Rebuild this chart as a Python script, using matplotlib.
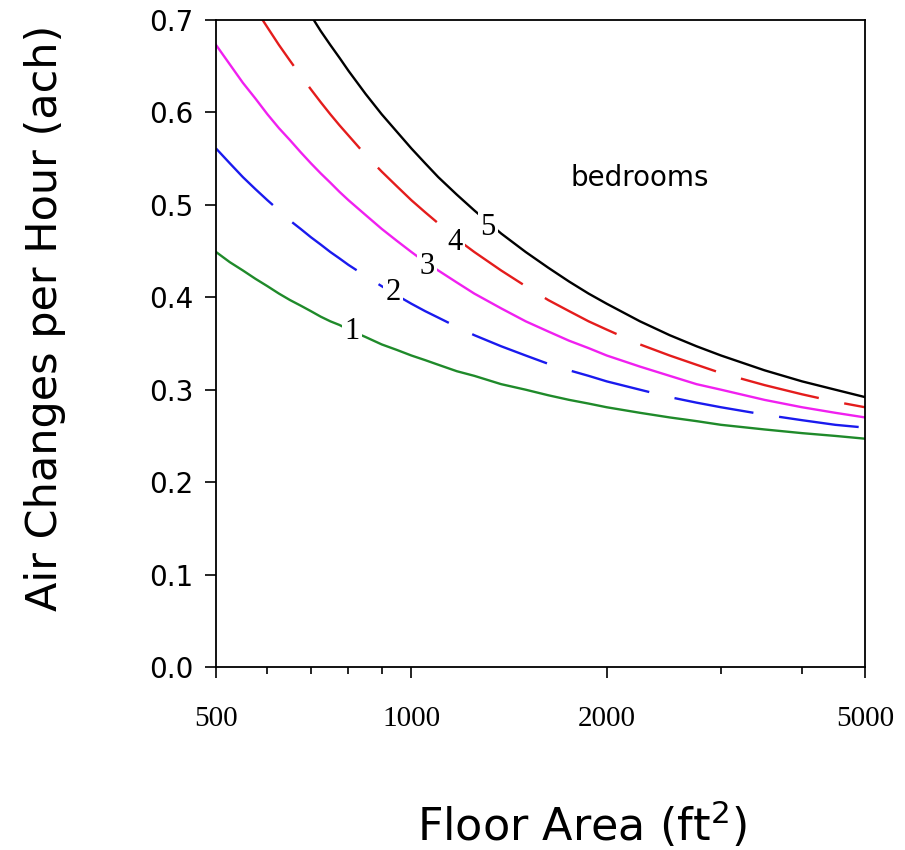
import numpy as np
import matplotlib
matplotlib.use('Agg')
import matplotlib.pyplot as plt
from matplotlib.ticker import FixedLocator, NullFormatter

# floor area (ft2) and air changes per hour for 1..5 bedrooms
area = [500, 525, 550, 575, 600, 625, 650, 675, 700, 725, 750, 775, 800, 850, 900,
        950, 1000, 1050, 1100, 1175, 1250, 1375, 1500, 1625, 1750, 1875, 2000,
        2250, 2500, 2750, 3000, 3500, 4000, 4500, 5000]
bed1 = [0.449, 0.438, 0.429, 0.420, 0.412, 0.404, 0.397, 0.391, 0.385, 0.379, 0.374, 0.370,
        0.365, 0.357, 0.349, 0.343, 0.337, 0.332, 0.327, 0.320, 0.315, 0.306, 0.300, 0.294,
        0.289, 0.285, 0.281, 0.275, 0.270, 0.266, 0.262, 0.257, 0.253, 0.250, 0.247]
bed2 = [0.561, 0.545, 0.530, 0.517, 0.505, 0.494, 0.483, 0.474, 0.465, 0.457, 0.449, 0.442,
        0.435, 0.423, 0.412, 0.402, 0.393, 0.385, 0.378, 0.368, 0.359, 0.347, 0.337, 0.328,
        0.321, 0.315, 0.309, 0.300, 0.292, 0.286, 0.281, 0.273, 0.267, 0.262, 0.259]
bed3 = [0.673, 0.652, 0.632, 0.615, 0.598, 0.583, 0.570, 0.557, 0.545, 0.534, 0.524, 0.514,
        0.505, 0.489, 0.474, 0.461, 0.449, 0.438, 0.429, 0.416, 0.404, 0.388, 0.374, 0.363,
        0.353, 0.345, 0.337, 0.325, 0.315, 0.306, 0.300, 0.289, 0.281, 0.275, 0.270]
bed4 = [0.785, 0.758, 0.734, 0.712, 0.692, 0.673, 0.656, 0.640, 0.625, 0.611, 0.598, 0.586,
        0.575, 0.554, 0.536, 0.520, 0.505, 0.492, 0.480, 0.463, 0.449, 0.429, 0.412, 0.397,
        0.385, 0.374, 0.365, 0.349, 0.337, 0.327, 0.318, 0.305, 0.295, 0.287, 0.281]
bed5 = [0.897, 0.865, 0.836, 0.809, 0.785, 0.763, 0.742, 0.723, 0.705, 0.688, 0.673, 0.659,
        0.645, 0.620, 0.598, 0.579, 0.561, 0.545, 0.530, 0.511, 0.494, 0.469, 0.449, 0.432,
        0.417, 0.404, 0.393, 0.374, 0.359, 0.347, 0.337, 0.321, 0.309, 0.300, 0.292]

curve_labels = ['1', '2', '3', '4', '5']
label_x = [810, 937, 1057, 1167, 1312]
label_y = [0.3625, 0.405, 0.433, 0.459, 0.475]

xticks_major = [500, 1000, 2000, 5000]
xticks_minor = [600, 700, 800, 900, 3000, 4000]
yticks = [0.0, 0.1, 0.2, 0.3, 0.4, 0.5, 0.6, 0.7]

fig = plt.figure(figsize=(9.05, 8.5), dpi=100)
ax = fig.add_axes([0.2387, 0.2153, 0.9558 - 0.2387, 0.9765 - 0.2153])

series = [bed1, bed2, bed3, bed4, bed5]
colors = ['#1f8a2a', '#1a1aee', '#f020f0', '#e41c1c', '#000000']
styles = ['solid', 'dashed', 'solid', 'dashed', 'solid']
for vals, c, st in zip(series, colors, styles):
  if st == 'dashed':
    ax.plot(area, vals, color=c, lw=1.7, dashes=(34, 11))
  else:
    ax.plot(area, vals, color=c, lw=1.7, solid_joinstyle='round')

for lab, lx, ly in zip(curve_labels, label_x, label_y):
  ax.text(lx, ly, lab, family='Liberation Serif', fontsize=22, ha='center', va='center',
          bbox=dict(facecolor='white', edgecolor='none', pad=1.5))

ax.text(2251, 0.529, 'bedrooms', fontsize=20, ha='center', va='center')

ax.set_xscale('log')
ax.set_xlim(500, 5000)
ax.set_ylim(0, 0.7)
ax.xaxis.set_major_locator(FixedLocator(xticks_major))
ax.xaxis.set_minor_locator(FixedLocator(xticks_minor))
ax.xaxis.set_minor_formatter(NullFormatter())
ax.set_xticklabels([str(v) for v in xticks_major], family='Liberation Serif', fontsize=21)
ax.set_yticks(yticks)
ax.set_yticklabels(['%.1f' % v for v in yticks], fontsize=20)
ax.tick_params(which='major', direction='out', length=8, width=1.2, pad=8)
ax.tick_params(which='minor', direction='out', length=5, width=1.2)
ax.tick_params(axis='x', which='major', pad=20)
for s in ax.spines.values():
  s.set_linewidth(1.3)

ax.set_xlabel('Floor Area (ft$^2$)', fontsize=32, va='center')
ax.xaxis.set_label_coords(0.564, -0.244)
ax.set_ylabel('Air Changes per Hour (ach)', fontsize=31, va='center')
ax.yaxis.set_label_coords(-0.263, 0.539)

fig.savefig('out.png', dpi=100)
